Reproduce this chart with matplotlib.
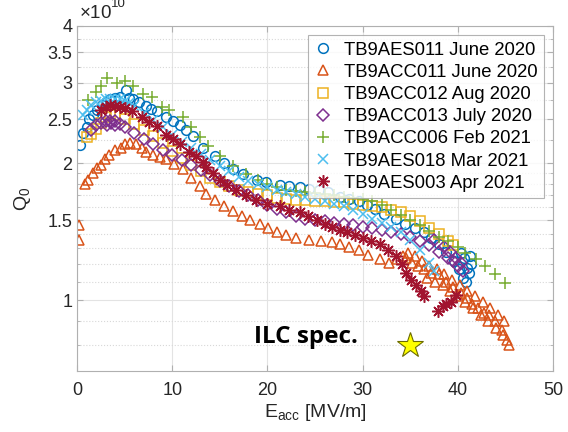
import matplotlib.pyplot as plt
import numpy as np

plt.rcParams['font.family'] = ['Liberation Sans', 'DejaVu Sans']
plt.rcParams['mathtext.fontset'] = 'custom'
plt.rcParams['mathtext.rm'] = 'Liberation Sans'
plt.rcParams['mathtext.it'] = 'Liberation Sans:italic'

# Q0 in units of 1e10, Eacc in MV/m
aes011_x = [0.3, 0.6, 1.0, 1.3, 1.7, 2.1, 2.6, 3.0, 3.5, 4.0, 4.5, 5.1, 5.5, 5.9, 6.5, 7.2, 7.8, 8.4, 9.4, 10.1,
            10.8, 11.5, 12.2, 13.2, 14.5, 15.4, 16.4, 17.4, 18.9, 19.9, 21.3, 22.3, 23.4, 24.4, 25.4, 26.4, 27.6,
            28.6, 29.6, 30.5, 31.3, 32.3, 33.5, 34.5, 35.5, 36.4, 37.2, 38.0, 38.8, 39.6, 40.1, 40.5, 40.9, 41.2,
            41.4, 40.7, 41.0, 41.3, 40.3]
aes011_y = [2.19, 2.33, 2.40, 2.50, 2.55, 2.62, 2.68, 2.72, 2.76, 2.78, 2.80, 2.90, 2.78, 2.76, 2.72, 2.67, 2.63,
            2.60, 2.53, 2.48, 2.43, 2.36, 2.29, 2.16, 2.07, 2.00, 1.94, 1.89, 1.84, 1.82, 1.79, 1.78, 1.77, 1.76,
            1.75, 1.73, 1.69, 1.67, 1.65, 1.62, 1.59, 1.55, 1.51, 1.47, 1.44, 1.41, 1.37, 1.33, 1.28, 1.22, 1.17,
            1.12, 1.10, 1.15, 1.20, 1.24, 1.18, 1.25, 1.27]

acc011_x = [0.2, 0.2, 0.8, 1.2, 1.7, 2.1, 2.5, 2.9, 3.4, 4.0, 4.6, 5.0, 5.6, 6.2, 6.8, 7.3, 8.0, 8.7, 9.4, 10.2,
            11.1, 12.0, 12.9, 13.6, 14.5, 15.4, 16.4, 17.3, 18.2, 19.2, 20.1, 21.0, 22.0, 23.0, 24.4, 25.6, 26.8,
            27.6, 28.6, 29.6, 30.6, 31.8, 32.8, 33.6, 34.2, 34.6, 35.2, 35.8, 36.5, 37.2, 38.0, 38.8, 39.5, 40.3,
            41.0, 41.5, 42.1, 42.7, 43.3, 43.9, 44.6, 45.2, 45.4,
            34.8, 35.5, 36.2, 37.0, 37.8, 38.6, 39.4, 40.2, 41.0, 41.8, 42.6, 43.4, 44.2, 44.9,
            36.8, 37.6, 38.4, 39.2, 40.0, 40.8, 41.6, 42.4, 43.2, 44.0, 44.8]
acc011_y = [1.46, 1.36, 1.80, 1.84, 1.90, 1.95, 1.98, 2.04, 2.08, 2.14, 2.16, 2.20, 2.22, 2.20, 2.16, 2.12, 2.08,
            2.06, 2.04, 1.99, 1.94, 1.86, 1.78, 1.71, 1.66, 1.61, 1.57, 1.53, 1.50, 1.47, 1.44, 1.41, 1.39, 1.37,
            1.36, 1.35, 1.34, 1.33, 1.31, 1.29, 1.26, 1.23, 1.21, 1.23, 1.25, 1.24, 1.21, 1.19, 1.17, 1.15, 1.14,
            1.10, 1.07, 1.04, 1.01, 0.98, 0.96, 0.94, 0.93, 0.90, 0.86, 0.82, 0.80,
            1.27, 1.25, 1.22, 1.19, 1.17, 1.14, 1.11, 1.08, 1.05, 1.02, 0.99, 0.96, 0.93, 0.90,
            1.12, 1.10, 1.08, 1.05, 1.02, 0.99, 0.96, 0.93, 0.90, 0.87, 0.84]

acc012_x = [1.0, 1.5, 2.0, 2.5, 3.0, 3.5, 4.0, 5, 6, 7, 8, 9, 10, 11, 12, 13, 14, 15, 16, 17, 18, 19, 20, 21, 22,
            23, 24, 25, 26, 27, 28, 29, 30, 31, 32, 33, 34, 35, 36, 37, 38, 39, 39.5]
acc012_y = [2.28, 2.32, 2.38, 2.45, 2.52, 2.56, 2.55, 2.50, 2.44, 2.37, 2.29, 2.21, 2.13, 2.05, 1.98, 1.92, 1.86,
            1.82, 1.78, 1.75, 1.73, 1.71, 1.70, 1.68, 1.67, 1.66, 1.66, 1.65, 1.65, 1.64, 1.64, 1.63, 1.62, 1.61,
            1.60, 1.58, 1.56, 1.53, 1.49, 1.44, 1.40, 1.35, 1.32]

acc013_x = [1.5, 2, 2.5, 3, 3.5, 4, 4.5, 5, 6, 7, 8, 9, 10, 11, 12, 13, 14, 15, 16, 17, 18, 19, 20, 21, 22, 23,
            24, 25, 26, 27, 28, 29, 30, 31, 32, 33, 34, 35, 36, 37, 38, 39, 39.5, 40, 40.5,
            3.2, 3.6, 4.0, 37.5, 38.5, 39.2, 39.8, 40.3]
acc013_y = [2.36, 2.42, 2.45, 2.47, 2.48, 2.47, 2.44, 2.40, 2.33, 2.26, 2.20, 2.14, 2.08, 2.03, 1.98, 1.93, 1.88,
            1.83, 1.78, 1.74, 1.70, 1.66, 1.62, 1.59, 1.56, 1.53, 1.51, 1.50, 1.49, 1.48, 1.47, 1.46, 1.45, 1.44,
            1.43, 1.41, 1.40, 1.38, 1.35, 1.32, 1.28, 1.24, 1.22, 1.19, 1.16,
            2.43, 2.45, 2.42, 1.36, 1.31, 1.28, 1.24, 1.21]

acc006_x = [1.2, 2.0, 2.5, 3.1, 4.2, 5.0, 5.9, 6.9, 7.9, 8.9, 9.7, 11.1, 12.0, 12.9, 13.8, 15.0, 16.4, 17.8, 19,
            20, 21, 22, 23, 24, 25, 26, 27, 28, 29, 30, 31, 32, 33, 34, 35, 36, 37, 38, 39, 40, 40.8, 41.9, 42.9,
            43.9, 45]
acc006_y = [2.75, 2.86, 2.95, 3.08, 3.00, 3.03, 2.95, 2.83, 2.79, 2.66, 2.62, 2.52, 2.40, 2.28, 2.18, 2.07, 1.97,
            1.89, 1.84, 1.80, 1.77, 1.75, 1.74, 1.73, 1.72, 1.71, 1.70, 1.69, 1.68, 1.67, 1.65, 1.62, 1.58, 1.54,
            1.50, 1.46, 1.42, 1.38, 1.35, 1.31, 1.27, 1.23, 1.19, 1.14, 1.09]

aes018_x = [0.6, 1, 1.5, 2, 2.5, 3, 3.5, 4, 4.5, 5, 5.5, 6, 7, 8, 9, 10, 11, 12, 13, 14, 15, 16, 17, 18, 19, 20,
            21, 22, 23, 24, 25, 26, 27, 28, 29, 30, 31, 32, 33, 34, 35, 36, 37, 37.5]
aes018_y = [2.55, 2.62, 2.68, 2.72, 2.74, 2.76, 2.77, 2.77, 2.76, 2.74, 2.71, 2.67, 2.58, 2.49, 2.40, 2.31, 2.23,
            2.16, 2.09, 2.03, 1.97, 1.92, 1.87, 1.83, 1.80, 1.77, 1.75, 1.73, 1.71, 1.69, 1.67, 1.65, 1.63, 1.61,
            1.58, 1.55, 1.51, 1.48, 1.45, 1.41, 1.36, 1.29, 1.21, 1.16]

aes003_x = [2.5, 3, 3.5, 4, 4.5, 5, 5.8, 6.8, 7.6, 8.4, 9.4, 10.1, 10.8, 11.8, 12.5, 13.2, 13.6, 14.3, 15, 15.8,
            16.7, 17.8, 18.8, 20, 21.3, 22.3, 23.4, 24.3, 25.2, 26, 26.8, 27.6, 28.4, 29.2, 30, 30.9, 31.8, 32.7,
            33.5, 34.1, 34.6, 35.1, 35.6, 36.1, 36.5, 37.9, 38.4, 38.8, 39.3, 39.8]
aes003_y = [2.62, 2.66, 2.68, 2.67, 2.66, 2.64, 2.60, 2.52, 2.46, 2.41, 2.31, 2.26, 2.20, 2.12, 2.07, 2.01, 1.96,
            1.90, 1.84, 1.79, 1.75, 1.70, 1.66, 1.63, 1.61, 1.58, 1.56, 1.53, 1.50, 1.47, 1.45, 1.43, 1.41, 1.39,
            1.37, 1.35, 1.33, 1.29, 1.25, 1.20, 1.15, 1.11, 1.08, 1.05, 1.02, 0.95, 0.97, 0.98, 0.99, 1.03]

asterisk = (8, 2, 0)
series = [
    (aes011_x, aes011_y, 'o', 7, '#0072BD', 'TB9AES011 June 2020'),
    (acc011_x, acc011_y, '^', 7.5, '#D95319', 'TB9ACC011 June 2020'),
    (acc012_x, acc012_y, 's', 6.5, '#EDB120', 'TB9ACC012 Aug 2020'),
    (acc013_x, acc013_y, 'D', 6, '#7E2F8E', 'TB9ACC013 July 2020'),
    (acc006_x, acc006_y, '+', 9, '#77AC30', 'TB9ACC006 Feb 2021'),
    (aes018_x, aes018_y, 'x', 7, '#4DBEEE', 'TB9AES018 Mar 2021'),
    (aes003_x, aes003_y, asterisk, 9, '#A2142F', 'TB9AES003 Apr 2021'),
]

fig = plt.figure(figsize=(5.68, 4.32), dpi=100)
ax = fig.add_axes([77 / 568, 61 / 432, 476 / 568, 345 / 432])

for x, y, m, ms, c, lab in series:
    ax.plot(x, y, linestyle='none', marker=m, ms=ms, mfc='none', mec=c, mew=1.1, label=lab)

# ILC spec star
ax.plot(35, 0.80, marker='*', ms=19, mfc='#ffff00', mec='#6b6b00', mew=0.8, linestyle='none')
ax.text(18.6, 0.832, 'ILC spec.', fontsize=17.5, fontweight='bold', family='Open Sans',
        ha='left', va='center', color='black')

ax.set_yscale('log')
ax.set_xlim(0, 50)
ax.set_ylim(0.7, 4)
ax.set_xticks([0, 10, 20, 30, 40, 50])
yt = [1, 1.5, 2, 2.5, 3, 3.5, 4]
ax.set_yticks(yt)
ax.set_yticklabels(['1', '1.5', '2', '2.5', '3', '3.5', '4'])
ax.set_yticks([0.8, 0.9, 1.1, 1.2, 1.3, 1.4, 1.6, 1.7, 1.8, 1.9, 2.25, 2.75, 3.25, 3.75], minor=True)
ax.yaxis.set_minor_formatter(plt.NullFormatter())

ax.grid(True, which='major', color='#e3e3e3', linewidth=0.8)
ax.grid(True, which='minor', axis='y', color='#d8d8d8', linestyle=':', linewidth=0.8)
ax.set_axisbelow(True)

for s in ax.spines.values():
    s.set_color('#b0b0b0')
    s.set_linewidth(0.8)
ax.tick_params(which='both', direction='in', top=True, right=True, color='#b0b0b0',
               labelsize=13, labelcolor='#262626')
ax.tick_params(which='major', length=4)
ax.tick_params(which='minor', length=2)
ax.tick_params(axis='x', pad=8)

ax.set_xlabel(r'E$_{\rm acc}$ [MV/m]', fontsize=14, color='#262626', labelpad=2)
ax.set_ylabel(r'Q$_0$', fontsize=14, color='#262626', labelpad=10)
ax.text(0.005, 1.012, r'$\times$10', transform=ax.transAxes, fontsize=13.5, color='#262626',
        ha='left', va='bottom')
ax.text(0.072, 1.045, '10', transform=ax.transAxes, fontsize=9.5, color='#262626',
        ha='left', va='bottom')

leg = ax.legend(loc='upper right', fontsize=13.3, frameon=True, fancybox=False,
                borderaxespad=0.5, handlelength=1.0, handletextpad=0.6, labelspacing=0.28,
                borderpad=0.35)
leg.get_frame().set_edgecolor('#a0a0a0')
leg.get_frame().set_linewidth(0.8)

fig.savefig('out.png', dpi=100)
